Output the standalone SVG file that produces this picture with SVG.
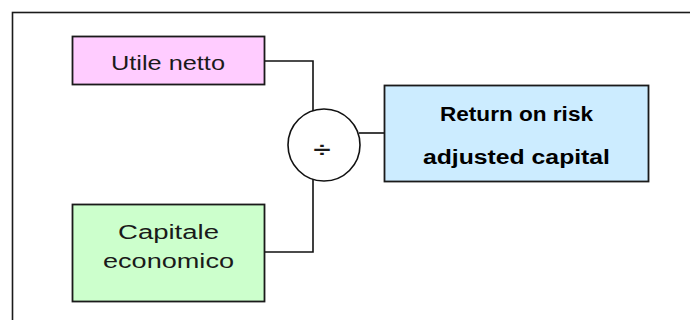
<svg xmlns="http://www.w3.org/2000/svg" width="690" height="320" viewBox="0 0 690 320">
  <style>
    .frame { fill: none; stroke: #1a1a1a; stroke-width: 1.6; }
    .box { stroke: #1a1a1a; stroke-width: 1.8; }
    .wire { fill: none; stroke: #111; stroke-width: 1.6; }
    .lbl { font-family: "Liberation Sans", Arial, sans-serif; font-size: 20px; fill: #1a1a1a; text-anchor: middle; }
    .bold { font-weight: bold; fill: #000; }
  </style>

  <!-- outer frame (runs past the right and bottom edges) -->
  <rect class="frame" x="12.5" y="12.5" width="700" height="330"/>

  <!-- connectors -->
  <g id="connectors">
    <polyline class="wire" points="265,61 313,61 313,112"/>
    <polyline class="wire" points="265,252 313,252 313,178"/>
    <line class="wire" x1="359" y1="133" x2="384" y2="133"/>
  </g>

  <g id="utile-netto">
    <rect class="box" x="72.5" y="36.5" width="192" height="48" fill="#FFCCFF"/>
    <text class="lbl" x="168" y="70" textLength="114" lengthAdjust="spacingAndGlyphs">Utile netto</text>
  </g>

  <g id="capitale-economico">
    <rect class="box" x="72.5" y="204.5" width="192" height="97" fill="#CCFFCC"/>
    <text class="lbl" x="168.5" y="239" textLength="101" lengthAdjust="spacingAndGlyphs">Capitale</text>
    <text class="lbl" x="168.5" y="268" textLength="131" lengthAdjust="spacingAndGlyphs">economico</text>
  </g>

  <g id="divide">
    <circle cx="324" cy="145" r="36" fill="#fff" stroke="#111" stroke-width="1.6"/>
    <text class="lbl" x="322" y="157" font-size="32" font-weight="bold" textLength="17" lengthAdjust="spacingAndGlyphs">÷</text>
  </g>

  <g id="raroc">
    <rect class="box" x="384.5" y="85.5" width="264" height="96" fill="#CCECFF"/>
    <text class="lbl bold" x="516.5" y="121" textLength="153" lengthAdjust="spacingAndGlyphs">Return on risk</text>
    <text class="lbl bold" x="516.5" y="164" textLength="187" lengthAdjust="spacingAndGlyphs">adjusted capital</text>
  </g>
</svg>
